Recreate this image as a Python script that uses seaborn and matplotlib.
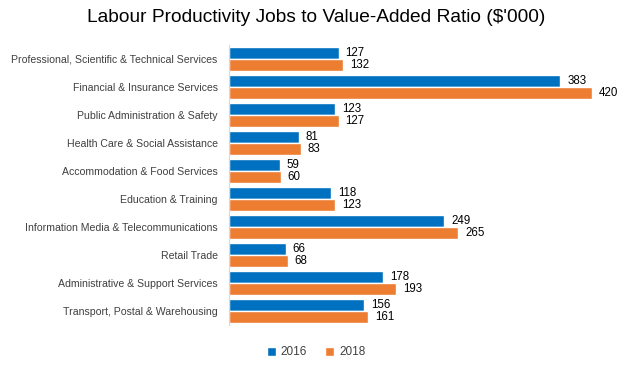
import matplotlib
matplotlib.use("Agg")
import matplotlib.pyplot as plt
import seaborn as sns
import pandas as pd
from matplotlib.patches import Patch

categories = [
    "Professional, Scientific & Technical Services",
    "Financial & Insurance Services",
    "Public Administration & Safety",
    "Health Care & Social Assistance",
    "Accommodation & Food Services",
    "Education & Training",
    "Information Media & Telecommunications",
    "Retail Trade",
    "Administrative & Support Services",
    "Transport, Postal & Warehousing",
]
values_2016 = [127, 383, 123, 81, 59, 118, 249, 66, 178, 156]
values_2018 = [132, 420, 127, 83, 60, 123, 265, 68, 193, 161]
years = ["2016", "2018"]
colors = ["#0070C0", "#ED7D31"]

df = pd.DataFrame({
    "Industry": categories * 2,
    "Value": values_2016 + values_2018,
    "Year": [years[0]] * len(categories) + [years[1]] * len(categories),
})

sns.set_theme(style="white")
plt.rcParams["font.family"] = ["Liberation Sans", "DejaVu Sans"]

fig = plt.figure(figsize=(6.32, 3.71), dpi=100)
ax = fig.add_axes([0.362, 0.124, 0.616, 0.755])
sns.barplot(data=df, y="Industry", x="Value", hue="Year", orient="h",
            palette=colors, width=0.88, ax=ax, legend=False, saturation=1)

for container in ax.containers:
    ax.bar_label(container, padding=5, fontsize=8.3, color="#000000")

ax.set_xlim(0, 450)
ax.set_xlabel("")
ax.set_ylabel("")
ax.set_xticks([])
ax.tick_params(axis="y", length=0, labelsize=7.6, pad=8, colors="#404040")
for s in ["top", "right", "bottom"]:
    ax.spines[s].set_visible(False)
ax.spines["left"].set_color("#D9D9D9")
ax.spines["left"].set_linewidth(0.8)

fig.suptitle("Labour Productivity Jobs to Value-Added Ratio ($'000)",
             fontsize=13.8, x=0.5, y=0.975, color="#000000")

handles = [Patch(facecolor=c, label=y) for c, y in zip(colors, years)]
fig.legend(handles=handles, loc="center", bbox_to_anchor=(0.5, 0.05), ncol=2,
           frameon=False, fontsize=8.5, handlelength=0.8, handleheight=0.8,
           handletextpad=0.4, columnspacing=1.5, labelcolor="#404040")

fig.savefig("out.png", dpi=100)
